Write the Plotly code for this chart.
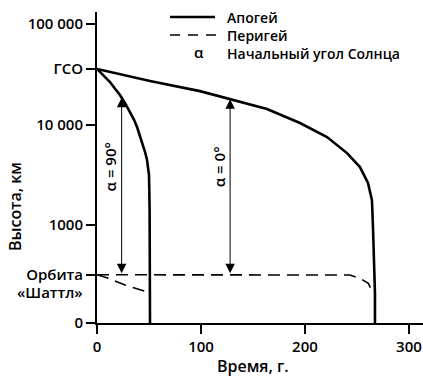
import math
import plotly.graph_objects as go

# Orbit decay: time in years, altitude in km
t_apo_90 = [0, 6, 12.5, 17, 22.1, 27, 31.7, 35.5, 38.5, 41.5, 44.2, 46.3, 48.1, 49.3, 50.0, 50.3, 50.6, 51.0]
h_apo_90 = [35786, 30800, 26500, 23000, 19700, 16300, 13300, 11200, 9440, 7700, 6250, 5300, 4440, 3750, 3150, 2200, 1400, 90]

t_per_90 = [0, 11, 27, 49.3]
h_per_90 = [320, 295, 253, 214]

t_apo_0 = [0, 51, 99, 128, 163.5, 195.2, 221.2, 240.4, 252.9, 260.6, 264.4, 265.4, 266.3, 267.3, 267.3]
h_apo_0 = [35786, 27100, 21500, 17900, 14300, 10350, 7520, 5200, 3770, 2620, 1770, 955, 449, 210, 90]

t_per_0 = [0, 230, 243.3, 252.9, 260.9, 264.1]
h_per_0 = [320, 320, 318, 295, 263, 225]

# Altitude marks on the vertical axis
GSO = 35786
SHUTTLE = 320
Y_FLOOR = 10 ** 2.025
y_tickvals = [Y_FLOOR, 1000, 10000, GSO, 100000, SHUTTLE]
y_ticktext = ["0", "1000", "10 000", "ГСО", "100 000", "Орбита"]

x_tickvals = [0, 100, 200, 300]

# Arrows between the shuttle orbit and the apogee curves
arrow_t = [23.7, 128.0]
arrow_labels = ["α = 90°", "α = 0°"]
arrow_curves = [(t_apo_90, h_apo_90), (t_apo_0, h_apo_0)]

key_labels = ["Апогей", "Перигей", "Начальный угол Солнца"]

W, H = 423, 379
ML, MR, MT, MB = 97, 0, 12, 56
FONT = "Open Sans"
INK = "#000000"


def interp_log(t, ts, hs):
    for i in range(len(ts) - 1):
        if ts[i] <= t <= ts[i + 1]:
            f = (t - ts[i]) / (ts[i + 1] - ts[i])
            return math.log10(hs[i]) + f * (math.log10(hs[i + 1]) - math.log10(hs[i]))
    return math.log10(hs[-1])


def px_x(p):
    return (p - ML) / (W - ML - MR)


def px_y(p):
    return (H - MB - p) / (H - MT - MB)


def txt_font(size):
    return dict(family=FONT, size=size, color=INK, weight=600)


fig = go.Figure()

for ts, hs in [(t_apo_90, h_apo_90), (t_apo_0, h_apo_0)]:
    fig.add_trace(go.Scatter(x=ts, y=hs, mode="lines",
                             line=dict(color=INK, width=2.6), showlegend=False,
                             hoverinfo="skip"))
for ts, hs in [(t_per_90, h_per_90), (t_per_0, h_per_0)]:
    fig.add_trace(go.Scatter(x=ts, y=hs, mode="lines",
                             line=dict(color=INK, width=1.6, dash="12px,7px"),
                             showlegend=False, hoverinfo="skip"))

annotations = []
for t, lab, (ts, hs), dx in zip(arrow_t, arrow_labels, arrow_curves, [-11.5, -11.2]):
    top = interp_log(t, ts, hs)
    annotations.append(dict(x=t, y=top, ax=t, ay=math.log10(SHUTTLE),
                            xref="x", yref="y", axref="x", ayref="y",
                            text="", showarrow=True, arrowhead=2, arrowsize=1.9,
                            arrowwidth=1, arrowcolor=INK, arrowside="end+start",
                            standoff=0, startstandoff=0))
    annotations.append(dict(x=t + dx, y=3.58, xref="x", yref="y", text=lab,
                            showarrow=False, textangle=-90,
                            xanchor="center", yanchor="middle",
                            font=txt_font(15)))

# Second line of the shuttle orbit tick label
annotations.append(dict(x=0, y=math.log10(SHUTTLE), xref="paper", yref="y",
                        text="«Шаттл»", showarrow=False,
                        xanchor="right", yanchor="middle", xshift=-12, yshift=-17,
                        font=txt_font(15)))

# Axis titles
annotations.append(dict(x=px_x(15), y=px_y(207), xref="paper", yref="paper",
                        text="Высота, км", showarrow=False, textangle=-90,
                        xanchor="center", yanchor="middle", font=txt_font(16)))
annotations.append(dict(x=px_x(253), y=px_y(366), xref="paper", yref="paper",
                        text="Время, г.", showarrow=False,
                        xanchor="center", yanchor="middle", font=txt_font(16)))

# Key: line samples, the α symbol and the three captions
shapes = [
    dict(type="line", xref="paper", yref="paper", x0=px_x(170), x1=px_x(215),
         y0=px_y(17), y1=px_y(17), line=dict(color=INK, width=2.4)),
    dict(type="line", xref="paper", yref="paper", x0=px_x(170), x1=px_x(216),
         y0=px_y(35), y1=px_y(35), line=dict(color=INK, width=1.6, dash="10px,8px")),
]
annotations.append(dict(x=px_x(225), y=px_y(35), xref="paper", yref="paper",
                        text="<br>".join(key_labels), showarrow=False,
                        align="left", xanchor="left", yanchor="middle",
                        font=txt_font(14)))
annotations.append(dict(x=px_x(199), y=px_y(52), xref="paper", yref="paper",
                        text="α", showarrow=False, xanchor="center", yanchor="middle",
                        font=txt_font(15)))

fig.update_layout(
    width=W, height=H,
    margin=dict(l=ML, r=MR, t=MT, b=MB),
    paper_bgcolor="white", plot_bgcolor="white",
    showlegend=False,
    annotations=annotations,
    shapes=shapes,
    font=txt_font(15),
    xaxis=dict(range=[0, 313.5], tickvals=x_tickvals,
               ticktext=[str(v) for v in x_tickvals],
               showline=True, linewidth=2, linecolor=INK, mirror=False,
               ticks="outside", ticklen=9, tickwidth=1.5, tickcolor=INK,
               showgrid=False, zeroline=False, tickfont=txt_font(15)),
    yaxis=dict(type="log", range=[2.025, 5.12], tickvals=y_tickvals,
               ticktext=y_ticktext,
               showline=True, linewidth=2, linecolor=INK,
               ticks="outside", ticklen=9, tickwidth=1.5, tickcolor=INK,
               showgrid=False, zeroline=False, tickfont=txt_font(15)),
)

fig.write_html("out.html")
